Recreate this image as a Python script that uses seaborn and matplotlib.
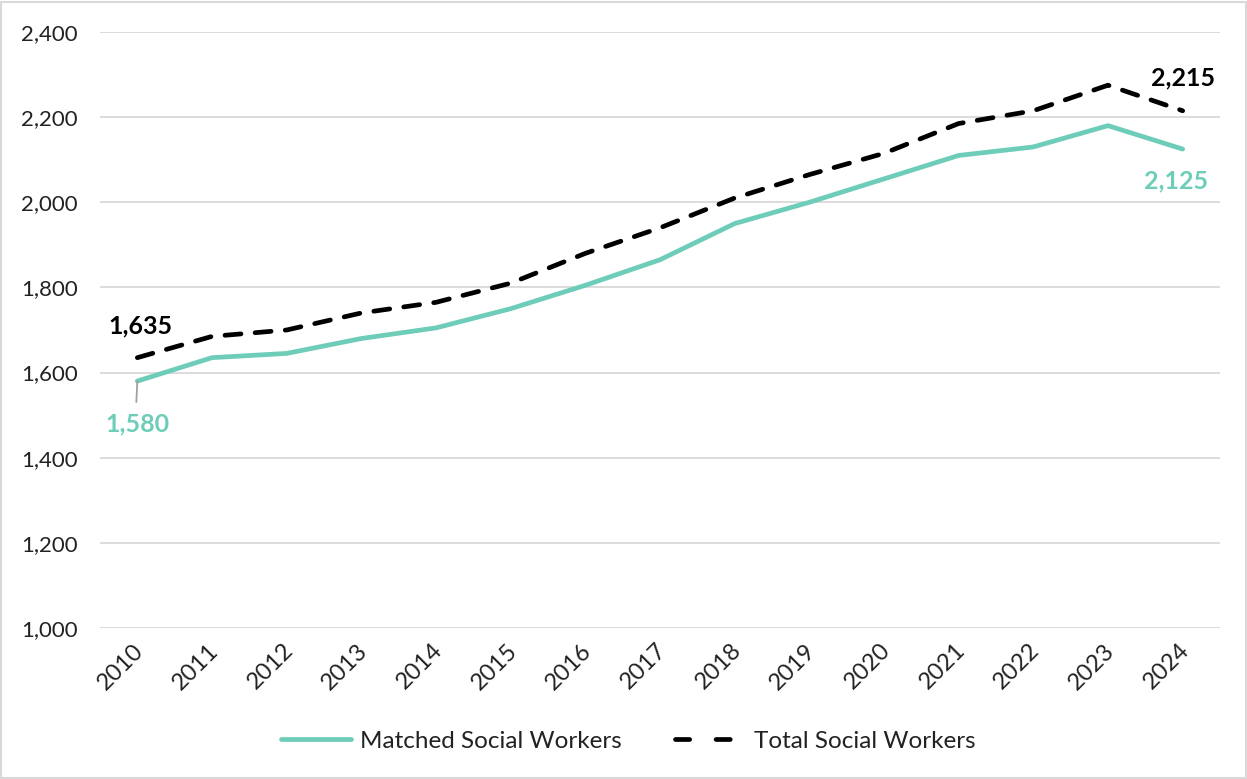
import matplotlib
matplotlib.use("Agg")
import matplotlib.pyplot as plt
import matplotlib.transforms as mtransforms
import seaborn as sns
import pandas as pd
from matplotlib.patches import Rectangle

years = [2010, 2011, 2012, 2013, 2014, 2015, 2016, 2017, 2018, 2019, 2020, 2021, 2022, 2023, 2024]
matched = [1580, 1635, 1645, 1680, 1705, 1750, 1805, 1865, 1950, 2000, 2055, 2110, 2130, 2180, 2125]
total = [1635, 1685, 1700, 1740, 1765, 1810, 1880, 1940, 2010, 2065, 2115, 2185, 2215, 2275, 2215]
series_names = ["Matched Social Workers", "Total Social Workers"]
y_ticks = [1000, 1200, 1400, 1600, 1800, 2000, 2200, 2400]

TEAL = "#6DCDB8"
sns.set_theme(style="white")
plt.rcParams["font.family"] = ["Lato", "DejaVu Sans"]

fig = plt.figure(figsize=(12.47, 7.79), dpi=100)
fig.patches.append(Rectangle((0.001, 0.001), 0.998, 0.997, transform=fig.transFigure,
                             fill=False, edgecolor="#D9D9D9", linewidth=1.5))
ax = fig.add_axes([100 / 1247, 1 - 628 / 779, 1120 / 1247, 596 / 779])

df = pd.DataFrame({"Year": years * 2,
                   "Value": matched + total,
                   "Series": [series_names[0]] * len(years) + [series_names[1]] * len(years)})

sns.lineplot(data=df[df.Series == series_names[0]], x="Year", y="Value", ax=ax,
             color=TEAL, linewidth=3.4, label=series_names[0], solid_capstyle="round")
sns.lineplot(data=df[df.Series == series_names[1]], x="Year", y="Value", ax=ax,
             color="black", linewidth=3.4, label=series_names[1],
             dashes=False)
ax.lines[1].set_dashes([3.4, 3.0])
ax.lines[1].set_dash_capstyle("round")

ax.set_xlim(years[0] - 0.5, years[-1] + 0.5)
ax.set_ylim(y_ticks[0], y_ticks[-1])
ax.tick_params(axis="y", length=0, pad=16)
ax.tick_params(axis="x", length=0, pad=8)
ax.set_yticks(y_ticks)
ax.set_yticklabels([f"{v:,}" for v in y_ticks], fontsize=16, color="#222222")
ax.set_xticks(years)
ax.set_xticklabels([str(y) for y in years], rotation=45, ha="right", va="center",
                   rotation_mode="anchor", fontsize=17, color="#222222")
off = mtransforms.ScaledTranslation(3 / 100, -8 / 100, fig.dpi_scale_trans)
for tick in ax.xaxis.get_major_ticks():
    tick.label1.set_transform(tick.label1.get_transform() + off)
ax.grid(axis="y", color="#D9D9D9", linewidth=1.3)
ax.set_axisbelow(True)
for s in ax.spines.values():
    s.set_visible(False)
ax.set_xlabel("")
ax.set_ylabel("")

# data labels
ax.annotate("", xy=(years[0], matched[0]), xytext=(-1, -21), textcoords="offset pixels",
            arrowprops=dict(arrowstyle="-", color="#A0A0A0", lw=1.3, shrinkA=0, shrinkB=0))
ax.annotate(f"{matched[0]:,}", xy=(years[0], matched[0]), xytext=(0, -43),
            textcoords="offset pixels", ha="center", va="center",
            fontsize=18, fontweight="bold", color=TEAL)
ax.annotate(f"{total[0]:,}", xy=(years[0], total[0]), xytext=(3, 32),
            textcoords="offset pixels", ha="center", va="center",
            fontsize=18, fontweight="bold", color="black")
ax.annotate(f"{total[-1]:,}", xy=(years[-1], total[-1]), xytext=(0, 33),
            textcoords="offset pixels", ha="center", va="center",
            fontsize=18, fontweight="bold", color="black")
ax.annotate(f"{matched[-1]:,}", xy=(years[-1], matched[-1]), xytext=(-7, -32),
            textcoords="offset pixels", ha="center", va="center",
            fontsize=18, fontweight="bold", color=TEAL)

ax.get_legend().remove()
handles = ax.lines[:2]
leg = fig.legend(handles, series_names, loc="center", bbox_to_anchor=(628 / 1247, 1 - 741 / 779),
                 ncol=2, frameon=False, fontsize=17.5, handlelength=2.9, columnspacing=2.2,
                 handletextpad=0.35, labelcolor="#222222")
leg_lines = leg.get_lines()
leg_lines[0].set_solid_capstyle("round")
leg_lines[1].set_dashes([3.0, 5.6])
leg_lines[1].set_dash_capstyle("round")

fig.savefig("out.png", dpi=100)
